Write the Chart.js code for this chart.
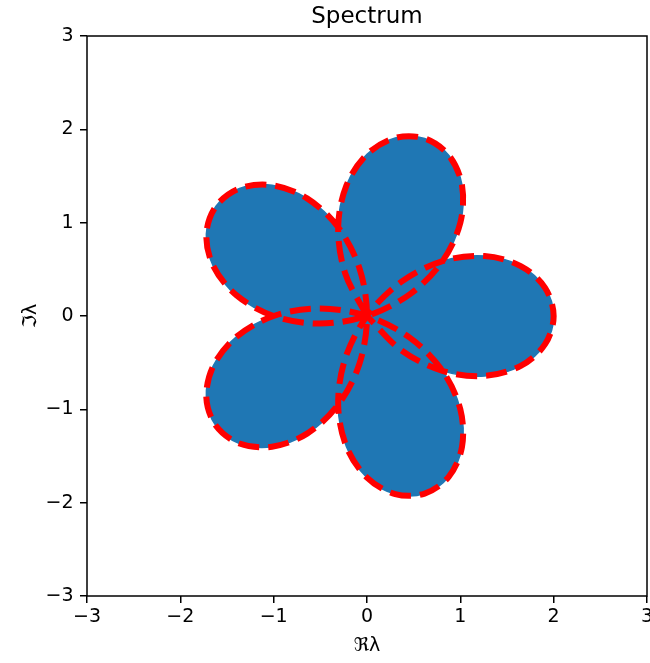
<!DOCTYPE html>
<html>
<head>
<meta charset="utf-8">
<script src="https://cdn.jsdelivr.net/npm/chart.js@4/dist/chart.umd.min.js"></script>
<style>
  html, body { margin: 0; padding: 0; background: #fff; }
  #wrap { width: 650px; height: 663px; }
</style>
</head>
<body>
<div id="wrap"><canvas id="spectrum" width="650" height="663"></canvas></div>
<script>
// Boundary of the spectrum: closed curve, real and imaginary parts
const curveRe = [
  0.0000, -0.2350, -0.3090, -0.2212, 0.0000, 0.3022, 0.6180, 0.8770, 1.0180, 1.0000, 0.8090, 0.4612,
  0.0000, -0.5112, -1.0000, -1.3968, -1.6472, -1.7212, -1.6180, -1.3660, -1.0180, -0.6421, -0.3090, -0.0810,
  0.0000, -0.0810, -0.3090, -0.6421, -1.0180, -1.3660, -1.6180, -1.7212, -1.6472, -1.3968, -1.0000, -0.5112,
  0.0000, 0.4612, 0.8090, 1.0000, 1.0180, 0.8770, 0.6180, 0.3022, 0.0000, -0.2212, -0.3090, -0.2350,
  0.0000, 0.3660, 0.8090, 1.2601, 1.6472, 1.9080, 2.0000, 1.9080, 1.6472, 1.2601, 0.8090, 0.3660,
  0.0000
];
const curveIm = [
  0.0000, 0.4612, 0.9510, 1.3968, 1.7320, 1.9080, 1.9022, 1.7212, 1.4012, 1.0000, 0.5878, 0.2350,
  0.0000, -0.0810, 0.0000, 0.2212, 0.5352, 0.8770, 1.1756, 1.3660, 1.4012, 1.2601, 0.9510, 0.5112,
  0.0000, -0.5112, -0.9510, -1.2601, -1.4012, -1.3660, -1.1756, -0.8770, -0.5352, -0.2212, 0.0000, 0.0810,
  0.0000, -0.2350, -0.5878, -1.0000, -1.4012, -1.7212, -1.9022, -1.9080, -1.7320, -1.3968, -0.9510, -0.4612,
  0.0000, 0.3660, 0.5878, 0.6421, 0.5352, 0.3022, 0.0000, -0.3022, -0.5352, -0.6421, -0.5878, -0.3660,
  0.0000
];
const tickValues = [-3, -2, -1, 0, 1, 2, 3];

const FONT = 'DejaVu Sans';
const fillBlue = '#1f77b4';
const edgeRed = '#ff0000';

const points = curveRe.map((x, i) => ({ x: x, y: curveIm[i] }));
const fmtTick = v => (v < 0 ? '\u2212' + Math.abs(v) : String(v));

// Full rectangular frame around the plotting area
const framePlugin = {
  id: 'frame',
  afterDraw(chart) {
    const { ctx, chartArea: a } = chart;
    ctx.save();
    ctx.strokeStyle = '#000';
    ctx.lineWidth = 1.5;
    ctx.strokeRect(a.left, a.top, a.right - a.left, a.bottom - a.top);
    ctx.restore();
  }
};

const axisCommon = {
  type: 'linear',
  min: tickValues[0],
  max: tickValues[tickValues.length - 1],
  border: { display: false },
  grid: {
    drawOnChartArea: false,
    drawTicks: true,
    tickLength: 7,
    color: '#000',
    lineWidth: 1.5
  },
  afterBuildTicks(scale) {
    scale.ticks = tickValues.map(v => ({ value: v }));
  }
};

new Chart(document.getElementById('spectrum'), {
  type: 'scatter',
  data: {
    datasets: [
      {
        label: 'boundary',
        data: points,
        showLine: true,
        fill: false,
        borderColor: edgeRed,
        borderWidth: 6,
        borderDash: [21, 9],
        borderCapStyle: 'butt',
        borderJoinStyle: 'round',
        tension: 0.33,
        pointRadius: 0,
        order: 0
      },
      {
        label: 'spectrum',
        data: points,
        showLine: true,
        fill: 'shape',
        backgroundColor: fillBlue,
        borderColor: fillBlue,
        borderWidth: 1.5,
        tension: 0.33,
        pointRadius: 0,
        order: 1
      }
    ]
  },
  options: {
    responsive: false,
    animation: false,
    devicePixelRatio: 1,
    layout: { padding: { left: 0, right: 3, top: 0, bottom: 0 } },
    plugins: {
      legend: { display: false },
      tooltip: { enabled: false },
      title: {
        display: true,
        text: 'Spectrum',
        fullSize: false,
        color: '#000',
        font: { family: FONT, size: 23, weight: 'normal' },
        padding: { top: 3, bottom: 5.4 }
      }
    },
    scales: {
      x: Object.assign({}, axisCommon, {
        position: 'bottom',
        ticks: {
          color: '#000',
          font: { family: FONT, size: 19 },
          padding: 2.5,
          maxRotation: 0,
          autoSkip: false,
          callback: fmtTick
        },
        title: {
          display: true,
          text: 'ℜλ',
          color: '#000',
          font: { family: FONT, size: 19 },
          padding: { top: 0, bottom: 5.6 }
        },
        afterFit(scale) {
          scale.height = 67;
          scale.paddingLeft = 0;
          scale.paddingRight = 0;
        }
      }),
      y: Object.assign({}, axisCommon, {
        position: 'left',
        ticks: {
          color: '#000',
          font: { family: FONT, size: 19 },
          padding: 6.4,
          autoSkip: false,
          callback: fmtTick
        },
        title: {
          display: true,
          text: 'ℑλ',
          color: '#000',
          font: { family: FONT, size: 19 },
          padding: { top: 19.5, bottom: 0 }
        },
        afterFit(scale) {
          scale.width = 87;
        }
      })
    }
  },
  plugins: [framePlugin]
});
</script>
</body>
</html>
